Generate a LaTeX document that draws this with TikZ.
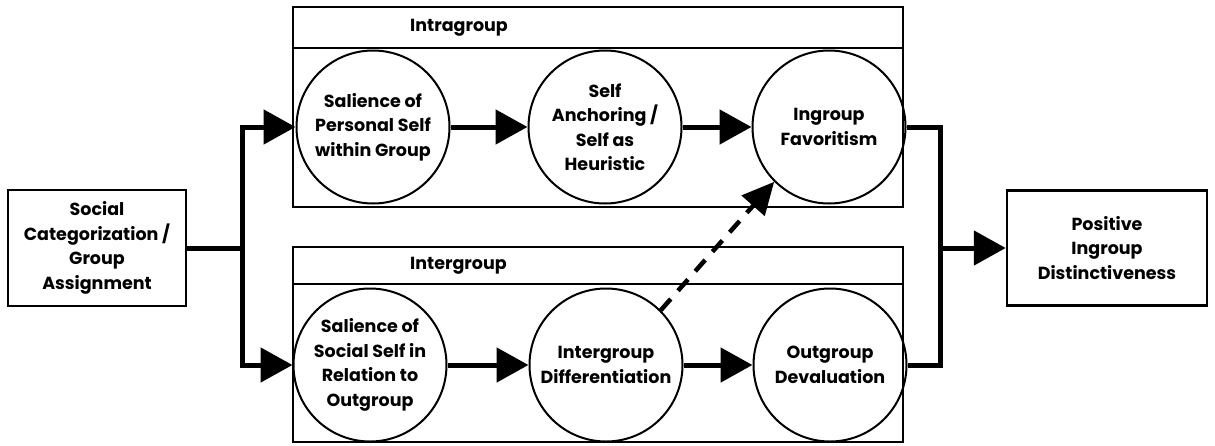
\documentclass[tikz,border=0pt]{standalone}
\usepackage{fontspec}
\setmainfont{Poppins}
\usetikzlibrary{arrows.meta}
\begin{document}
\begin{tikzpicture}[x=1pt,y=-1pt,
  every node/.style={font=\bfseries\fontsize{17.5}{24.5}\selectfont, align=center, inner sep=0pt},
  stage/.style={circle, draw, line width=2pt, minimum size=153pt},
  endbox/.style={rectangle, draw, line width=2.5pt},
  panel/.style={draw, line width=2.5pt},
  conn/.style={line width=5pt},
  flow/.style={line width=5pt, -{Triangle[length=32pt,width=34pt]}},
  cross/.style={line width=4.5pt, dash pattern=on 15pt off 11pt, -{Triangle[length=32pt,width=30pt]}}
]
\useasboundingbox (0,0) rectangle (1215,445);

% panels
\draw[panel] (293,7) rectangle (903,207);
\draw[panel] (293,48) -- (903,48);
\node[anchor=west] (intrahead) at (410,28) {Intragroup};
\draw[panel] (293,247) rectangle (903,442);
\draw[panel] (293,284) -- (903,284);
\node[anchor=west] (interhead) at (410,266) {Intergroup};

% end boxes
\node[endbox, minimum width=178pt, minimum height=116pt] (src) at (97,248)
  {Social\\Categorization /\\Group\\Assignment};
\node[endbox, minimum width=200pt, minimum height=115pt] (dst) at (1107,248)
  {Positive\\Ingroup\\Distinctiveness};

% stages
\node[stage] (c1) at (373,127) {Salience of\\Personal Self\\within Group};
\node[stage] (c2) at (605,127) {Self\\Anchoring /\\Self as\\Heuristic};
\node[stage] (c3) at (829,127) {Ingroup\\Favoritism};
\node[stage] (c4) at (370,365) {Salience of\\Social Self in\\Relation to\\Outgroup};
\node[stage] (c5) at (606,365) {Intergroup\\Differentiation};
\node[stage] (c6) at (830,365) {Outgroup\\Devaluation};

% split and join points
\coordinate (jl) at (242,248);
\coordinate (jr) at (940,248);

\draw[conn] (src.east) -- (jl);
\draw[flow] (jl) |- (c1.west);
\draw[flow] (jl) |- (c4.west);
\draw[flow] (c1) -- (c2);
\draw[flow] (c2) -- (c3);
\draw[flow] (c4) -- (c5);
\draw[flow] (c5) -- (c6);
\draw[conn] (c3.east) -| (jr);
\draw[conn] (c6.east) -| (jr);
\draw[flow] (jr) -- (dst.west);
\draw[cross] (c5.north east) -- (c3.south west);
\end{tikzpicture}
\end{document}
